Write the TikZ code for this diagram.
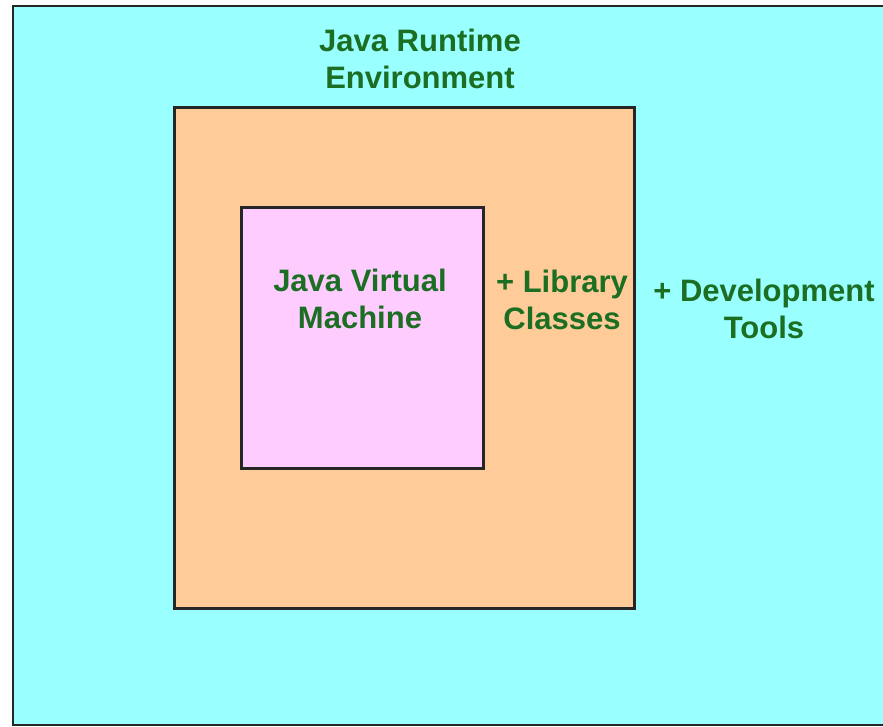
\documentclass[tikz,border=0pt]{standalone}
\usepackage{fontspec}
\setmainfont{Liberation Sans}
\usetikzlibrary{positioning}

\definecolor{jdkcyan}{HTML}{99FFFF}
\definecolor{jreorange}{HTML}{FFCC99}
\definecolor{jvmpink}{HTML}{FFCCFF}
\definecolor{labelgreen}{HTML}{1B6E22}

\begin{document}
\begin{tikzpicture}[x=1pt, y=1pt]
    \tikzset{layer/.style={
        draw=black!85, line width=2.6pt, inner sep=0pt
      },
      caption/.style={
        font=\fontsize{31}{37}\selectfont\bfseries, text=labelgreen, align=center, inner sep=0pt
      }
    }
    \useasboundingbox (0,0) rectangle (883,727);

    % outer box runs past the right edge
    \fill[jdkcyan] (13,2) rectangle (883,721);
    \draw[draw=black!85, line width=2.6pt] (890,721) -- (13,721) -- (13,2) -- (890,2);

    \node[layer, fill=jreorange, minimum width=460pt, minimum height=501pt, anchor=north west] (JRE) at (173,621) {};
    \node[layer, fill=jvmpink, minimum width=242pt, minimum height=261pt, anchor=north west] (JVM) at (240,521) {};

    \node[caption] (jrelabel) at (420,668) {Java Runtime\\Environment};
    \node[caption] (jvmlabel) at (360,428) {Java Virtual\\Machine};
    \node[caption] (liblabel) at (562,427) {+ Library\\Classes};
    \node[caption] (toollabel) at (764,418) {+ Development\\Tools};
\end{tikzpicture}
\end{document}
